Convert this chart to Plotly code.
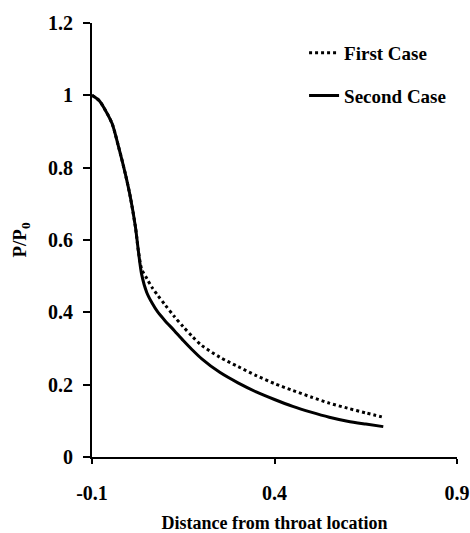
import plotly.graph_objects as go

# Shared upstream portion of both pressure profiles
x_common = [-0.1, -0.08, -0.0635, -0.045, -0.027, -0.009, 0.005, 0.019, 0.027]
y_common = [1.0, 0.985, 0.959, 0.922, 0.857, 0.784, 0.719, 0.636, 0.57]

# First case (dotted) downstream
x_first = x_common + [0.036, 0.05, 0.065, 0.08, 0.1, 0.125, 0.15, 0.175, 0.2, 0.25, 0.3,
                      0.35, 0.4, 0.45, 0.5, 0.55, 0.6, 0.65, 0.694]
y_first = y_common + [0.52, 0.494, 0.468, 0.447, 0.421, 0.389, 0.36, 0.333, 0.309, 0.276, 0.25,
                      0.225, 0.203, 0.184, 0.166, 0.149, 0.135, 0.122, 0.111]

# Second case (solid) downstream
x_second = x_common + [0.036, 0.05, 0.065, 0.08, 0.1, 0.125, 0.15, 0.175, 0.2, 0.25, 0.3,
                       0.35, 0.4, 0.45, 0.5, 0.55, 0.6, 0.65, 0.698]
y_second = y_common + [0.505, 0.455, 0.425, 0.401, 0.377, 0.35, 0.322, 0.296, 0.272, 0.234, 0.205,
                       0.18, 0.159, 0.14, 0.124, 0.11, 0.099, 0.091, 0.084]

x_ticks = [-0.1, 0.4, 0.9]
y_ticks = [0, 0.2, 0.4, 0.6, 0.8, 1.0, 1.2]
y_tick_text = ["0", "0.2", "0.4", "0.6", "0.8", "1", "1.2"]

FONT = "Liberation Serif"

fig = go.Figure()
fig.add_trace(go.Scatter(
    x=x_first, y=y_first, mode="lines", name="First Case",
    line=dict(color="black", width=3, dash="dot", shape="spline", smoothing=0.8),
    legendgroup="a",
))
fig.add_trace(go.Scatter(
    x=x_second, y=y_second, mode="lines", name="Second Case",
    line=dict(color="black", width=3, shape="spline", smoothing=0.8),
    legendgroup="b",
))

axis_common = dict(
    showgrid=False, zeroline=False, showline=True, linecolor="black", linewidth=2,
    ticks="outside", tickcolor="black", tickwidth=2, automargin=False,
    tickfont=dict(family=FONT, size=20, color="black", weight="bold"),
)

fig.update_xaxes(
    range=[-0.1, 0.9], tickvals=x_ticks, ticktext=["-0.1", "0.4", "0.9"], ticklen=5,
    ticklabelstandoff=12,
    title=dict(text="Distance from throat location",
               font=dict(family=FONT, size=18, color="black", weight="bold"), standoff=22),
    **axis_common,
)
fig.update_yaxes(
    range=[0, 1.2], tickvals=y_ticks, ticktext=y_tick_text, ticklen=7,
    ticklabelstandoff=6,
    title=dict(text="P/P<sub>0</sub>",
               font=dict(family=FONT, size=19, color="black", weight="bold"), standoff=16),
    **axis_common,
)

fig.update_layout(
    width=470, height=533,
    margin=dict(l=92, r=13, t=23, b=76),
    paper_bgcolor="white", plot_bgcolor="white",
    showlegend=True,
    legend=dict(
        x=0.581, y=0.975, xanchor="left", yanchor="top",
        font=dict(family=FONT, size=19, color="black", weight="bold"),
        bgcolor="rgba(0,0,0,0)", tracegroupgap=15, traceorder="grouped",
    ),
)

fig.write_html("out.html")
